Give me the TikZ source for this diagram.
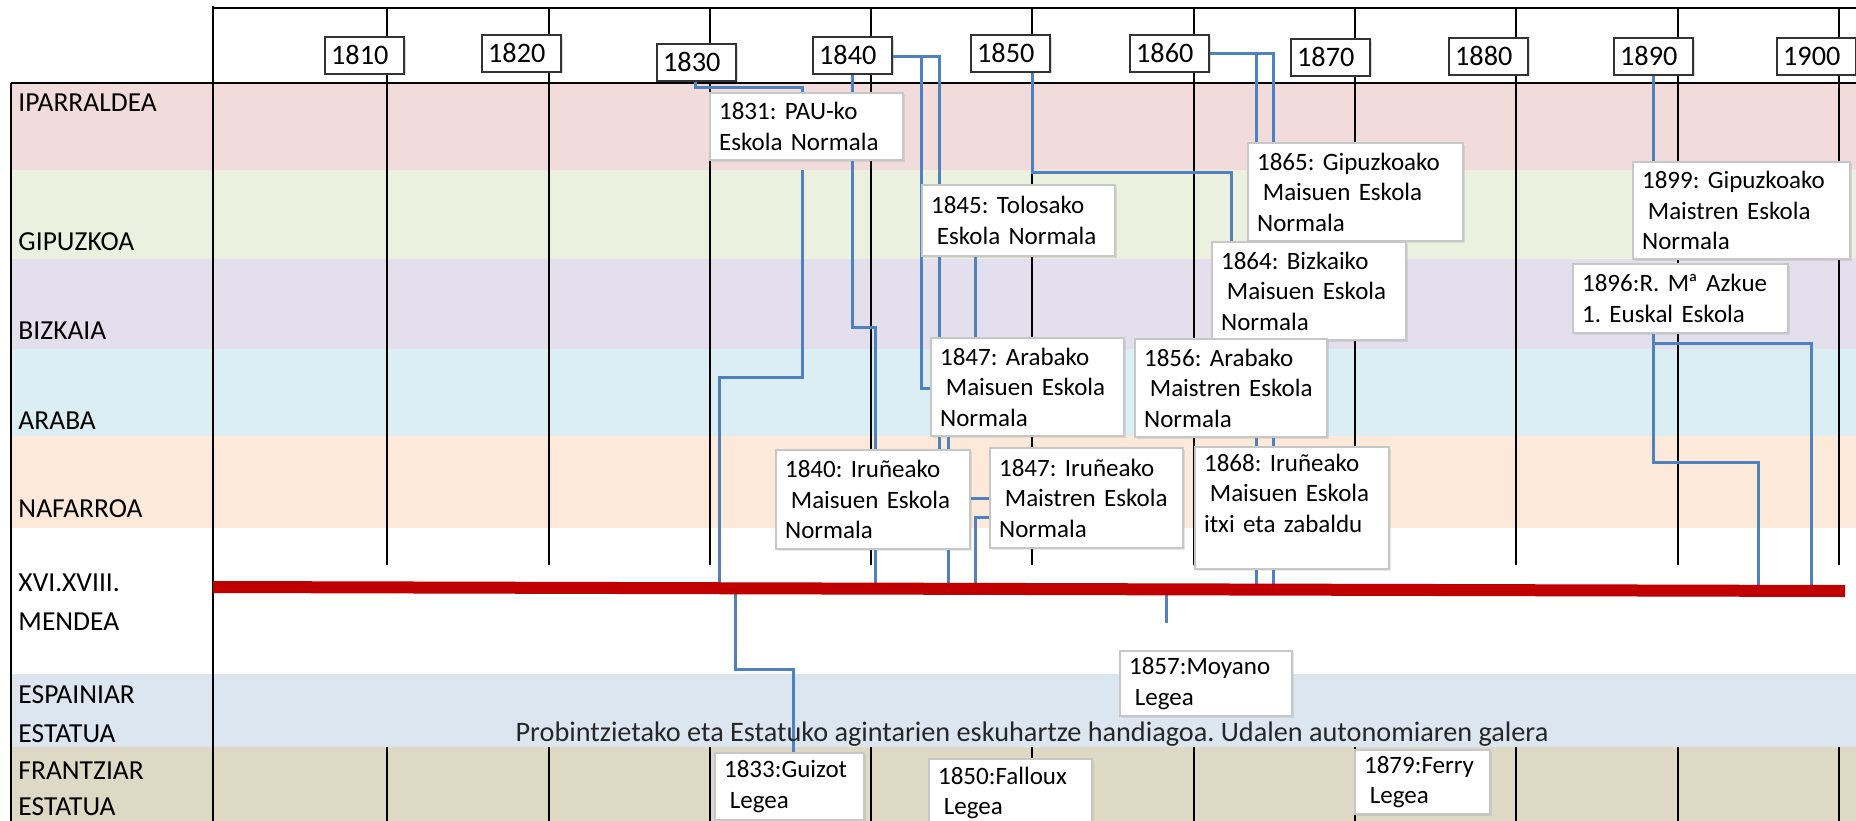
\documentclass[tikz,border=0pt]{standalone}
\usepackage{fontspec}
\setmainfont{Carlito}
\usetikzlibrary{shadows}
\definecolor{cPink}{HTML}{F2DCDB}
\definecolor{cGreen}{HTML}{EBF1DE}
\definecolor{cLav}{HTML}{E4DFEC}
\definecolor{cLBlue}{HTML}{DAEEF3}
\definecolor{cPeach}{HTML}{FDE9D9}
\definecolor{cBGrey}{HTML}{DCE6F1}
\definecolor{cTan}{HTML}{DDD9C4}
\definecolor{cConn}{HTML}{4F81BD}
\definecolor{cRed}{HTML}{C00000}
\pgfdeclarelayer{bg}
\pgfdeclarelayer{mid}
\pgfsetlayers{bg,mid,main}
\newcommand{\lsp}{\hspace*{0.23em}}
\frenchspacing
\begin{document}
\frenchspacing
\begin{tikzpicture}[x=0.4pt,y=-0.4pt,
  gridline/.style={black, line width=0.6pt},
  frameline/.style={black, line width=0.8pt},
  conn/.style={draw=cConn, line width=1.2pt},
  redbar/.style={draw=cRed, line width=4.8pt},
  yearbox/.style={draw=black!80, line width=0.9pt, fill=white, anchor=north west,
    minimum height=14.6pt, inner xsep=2.4pt, inner ysep=0pt, text width=26.8pt,
    align=left, font=\fontsize{11.3}{13}\selectfont,
    drop shadow={shadow xshift=0.7pt, shadow yshift=-0.7pt, opacity=0.3}},
  evbox/.style={draw=black!22, line width=0.9pt, fill=white, anchor=north west,
    inner xsep=3.6pt, inner ysep=0pt, align=left, text=black,
    font=\fontsize{10}{12.2}\selectfont\frenchspacing,
    drop shadow={shadow xshift=0.6pt, shadow yshift=-0.6pt, opacity=0.18}},
  evsize/.style 2 args={text width=#1, minimum height=#2},
  rowlab/.style={anchor=base west, inner sep=0pt, text=black,
    font=\fontsize{11}{13}\selectfont},
  bandtext/.style={anchor=base, inner sep=0pt, text=black!85,
    font=\fontsize{11.3}{13}\selectfont\frenchspacing}]
\useasboundingbox (0,0) rectangle (1856,821);

% ---------- year boxes ----------
\node[yearbox] (y1810) at (324,36) {1810};
\node[yearbox] (y1820) at (481,34) {1820};
\node[yearbox] (y1830) at (656,43) {1830};
\node[yearbox] (y1840) at (812,36) {1840};
\node[yearbox] (y1850) at (970,34) {1850};
\node[yearbox] (y1860) at (1129,34) {1860};
\node[yearbox] (y1870) at (1290,38) {1870};
\node[yearbox] (y1880) at (1448,37) {1880};
\node[yearbox] (y1890) at (1613,37) {1890};
\node[yearbox] (y1900) at (1776,37) {1900};

% ---------- event boxes ----------
\node[evbox, evsize={70pt}{26.8pt}] (b1831) at (709,92) {1831: PAU-ko\\Eskola Normala};
\node[evbox, evsize={70pt}{28.4pt}] (b1845) at (921,184) {1845: Tolosako\\\lsp Eskola Normala};
\node[evbox, evsize={78.8pt}{39.2pt}] (b1865) at (1247,142) {1865: Gipuzkoako\\\lsp Maisuen Eskola\\Normala};
\node[evbox, evsize={70.4pt}{39.2pt}] (b1864) at (1211,241) {1864: Bizkaiko\\\lsp Maisuen Eskola\\Normala};
\node[evbox, evsize={79.6pt}{38.8pt}] (b1899) at (1632,161) {1899: Gipuzkoako\\\lsp Maistren Eskola\\Normala};
\node[evbox, evsize={78.8pt}{27.6pt}] (b1896) at (1572,263) {1896:R. M\kern-0.06emª Azkue\\1. Euskal Eskola};
\node[evbox, evsize={70pt}{39.2pt}] (b1847a) at (930,337) {1847: Arabako\\\lsp Maisuen Eskola\\Normala};
\node[evbox, evsize={69.6pt}{39.2pt}] (b1856) at (1134,338) {1856: Arabako\\\lsp Maistren Eskola\\Normala};
\node[evbox, evsize={70.4pt}{39.6pt}] (b1840i) at (775,449) {1840: Iruñeako\\\lsp Maisuen Eskola\\Normala};
\node[evbox, evsize={70pt}{40pt}] (b1847i) at (989,447) {1847: Iruñeako\\\lsp Maistren Eskola\\Normala};
\node[evbox, evsize={70.4pt}{48.8pt}] (b1868) at (1194,446) {1868: Iruñeako\\\lsp Maisuen Eskola\\itxi eta zabaldu\\\mbox{}};
\node[evbox, evsize={61.6pt}{26pt}] (bMoyano) at (1119,650) {1857:Moyano\\\lsp Legea};
\node[evbox, evsize={52.4pt}{26.8pt}] (bGuizot) at (714,752) {1833:Guizot\\\lsp Legea};
\node[evbox, evsize={58pt}{27.2pt}] (bFalloux) at (928,758) {1850:Falloux\\\lsp Legea};
\node[evbox, evsize={46.8pt}{25.6pt}] (bFerry) at (1354,749) {1879:Ferry\\\lsp Legea};

% ---------- row labels ----------
\node[rowlab] (lIpar) at (18,111) {IPARRALDEA};
\node[rowlab] (lGip) at (18,250) {GIPUZKOA};
\node[rowlab] (lBiz) at (18,339) {BIZKAIA};
\node[rowlab] (lAra) at (18,429) {ARABA};
\node[rowlab] (lNaf) at (18,517) {NAFARROA};
\node[rowlab] (lXvi) at (18,591) {XVI.XVIII.};
\node[rowlab] (lMen) at (18,630) {MENDEA};
\node[rowlab] (lEsp) at (18,703) {ESPAINIAR};
\node[rowlab] (lEst1) at (18,742) {ESTATUA};
\node[rowlab] (lFra) at (18,779) {FRANTZIAR};
\node[rowlab] (lEst2) at (18,815) {ESTATUA};
\node[bandtext] (tEsp) at (1032,741) {Probintzietako eta Estatuko agintarien eskuhartze handiagoa. Udalen autonomiaren galera};

% ---------- coordinates ----------
\coordinate (redL) at (213,589);
\coordinate (redR) at (1845,589);
\coordinate (k0) at (695,87);
\coordinate (k1) at (802,87);
\coordinate (k2) at (802,170);
\coordinate (k3) at (802,377);
\coordinate (k4) at (719,377);
\coordinate (k5) at (735,669);
\coordinate (k6) at (793,669);
\coordinate (k7) at (852,327);
\coordinate (k8) at (875,327);
\coordinate (k9) at (921,56);
\coordinate (k10) at (921,388);
\coordinate (k11) at (939,56);
\coordinate (k12) at (948,435);
\coordinate (k13) at (975,300);
\coordinate (k14) at (975,517);
\coordinate (k15) at (970,498);
\coordinate (k16) at (1032,172);
\coordinate (k17) at (1231,172);
\coordinate (k18) at (1256,53);
\coordinate (k19) at (1273,53);
\coordinate (k20) at (1653,100);
\coordinate (k21) at (1653,462);
\coordinate (k22) at (1758,462);
\coordinate (k23) at (1653,343);
\coordinate (k24) at (1811,343);
\coordinate (k25) at (1166,623);

% ---------- background bands and grid ----------
\begin{pgfonlayer}{bg}
  \fill[white] (0,0) rectangle (1856,821);
  \fill[cPink]  (11,83)  rectangle (1856,170);
  \fill[cGreen] (11,170) rectangle (1856,259);
  \fill[cLav]   (11,259) rectangle (1856,349);
  \fill[cLBlue] (11,349) rectangle (1856,436);
  \fill[cPeach] (11,436) rectangle (1856,528);
  \fill[cBGrey] (11,674) rectangle (1856,747);
  \fill[cTan]   (11,747) rectangle (1856,821);
  \foreach \x in {387,549,710,871,1032,1194,1355,1516,1678,1839}{
    \draw[gridline] (\x,8) -- (\x,83);
    \draw[gridline] (\x,83) -- (\x,565);
    \draw[gridline] (\x,747) -- (\x,821);
  }
  \draw[frameline] (213,8) -- (1856,8);
  \draw[frameline] (11,83) -- (1856,83);
  \draw[frameline] (11,83) -- (11,821);
  \draw[frameline] (213,6) -- (213,821);
\end{pgfonlayer}

% ---------- connectors ----------
\begin{pgfonlayer}{mid}
  \draw[conn] (y1830.south -| k0) -- (k0) -- (k1) -- (b1831.north -| k1);
  \draw[conn] (k2) -- (k3) -- (k4) -- (k4 |- redL);
  \draw[conn] (k5 |- redL) -- (k5) -- (k6) -- (bGuizot.north -| k6);
  \draw[conn] (y1840.south -| k7) -- (k7) -- (k8) -- (k8 |- redL);
  \draw[conn] (y1840.east |- k9) -- (k9) -- (k10) -- (b1847a.west |- k10);
  \draw[conn] (k9) -- (k11) -- (b1840i.north -| k11);
  \draw[conn] (b1847a.south -| k12) -- (k12 |- redL);
  \draw[conn] (b1845.south -| k13) -- (b1847a.north -| k13);
  \draw[conn] (b1847i.west |- k14) -- (k14) -- ([yshift=-1.2pt]k14 |- redL);
  \draw[conn] (b1840i.east |- k15) -- (b1847i.west |- k15);
  \draw[conn] (y1850.south -| k16) -- (k16) -- (k17) -- (b1864.north -| k17);
  \draw[conn] (y1860.east |- k19) -- (k19) -- (k19 |- redL);
  \draw[conn] (k18) -- (k18 |- redL);
  \draw[conn] (y1890.south -| k20) -- (b1899.north -| k20);
  \draw[conn] (b1896.south -| k21) -- (k21) -- (k22) -- (k22 |- redL);
  \draw[conn] (k23) -- (k24) -- (k24 |- redL);
  \draw[conn] (k25 |- redL) -- (k25);
  \draw[redbar] ([yshift=0.8pt]redL) -- ([yshift=-0.8pt]redR);
\end{pgfonlayer}
\end{tikzpicture}
\end{document}
